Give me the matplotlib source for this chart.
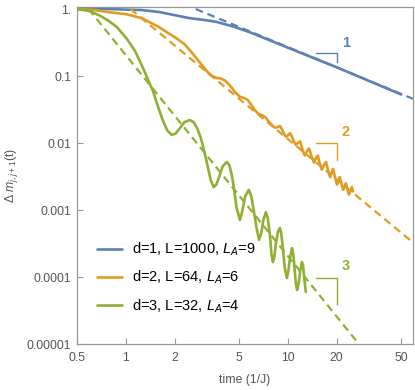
import numpy as np
import matplotlib
matplotlib.use("Agg")
import matplotlib.pyplot as plt

plt.rcParams['font.family'] = ['Liberation Sans', 'DejaVu Sans']
plt.rcParams['mathtext.fontset'] = 'custom'
plt.rcParams['mathtext.rm'] = 'Liberation Sans'
plt.rcParams['mathtext.it'] = 'Liberation Sans:italic'

# colores estilo Mathematica
c_blue = "#5E81B5"
c_orange = "#E19C24"
c_green = "#8FB032"

# ---------------------------
# datos
# ---------------------------
t_d1 = [0.5, 0.774, 1.0, 1.255, 1.62, 2.0, 2.48, 3.07, 3.65, 4.58, 5.83, 10.0, 20.0, 50.0]
m_d1 = [1.0, 1.0, 0.98, 0.966, 0.90, 0.81, 0.73, 0.685, 0.64, 0.55, 0.45, 0.265, 0.135, 0.053]

t_d2 = [0.5, 0.644, 0.774, 1.0, 1.255, 1.576, 2.006, 2.3, 2.55, 2.86, 3.16, 3.40, 3.62, 3.85,
        4.08, 4.38, 4.71, 5.06, 5.35, 5.65, 5.95, 6.25, 6.6, 6.95, 7.3, 7.6, 7.96, 8.3,
        8.6, 8.93, 9.2, 9.5, 9.72, 10.0, 10.3, 10.6, 10.9, 11.2, 11.5, 11.9, 12.3, 12.7,
        13.1, 13.5, 14.0, 14.5, 14.9, 15.3, 15.7, 16.2, 16.7, 17.2, 17.7, 18.2, 18.6,
        19.0, 19.5, 20.1, 20.5, 20.9, 21.4, 21.9, 22.3, 22.8, 23.3, 23.8, 24.3, 24.8, 25.2]
m_d2 = [1.0, 0.966, 0.90, 0.84, 0.73, 0.55, 0.38, 0.30, 0.225, 0.160, 0.118, 0.100, 0.094, 0.092,
        0.086, 0.073, 0.058, 0.049, 0.047, 0.044, 0.037, 0.031, 0.027, 0.026, 0.024, 0.021, 0.0186, 0.0170,
        0.0172, 0.0180, 0.0160, 0.0135, 0.0124, 0.0130, 0.0140, 0.0125, 0.0105, 0.0094, 0.0100, 0.0106, 0.0080, 0.0065,
        0.0075, 0.0083, 0.0063, 0.0051, 0.0060, 0.0065, 0.0050, 0.0040, 0.0047, 0.0052, 0.0039, 0.0031, 0.0036,
        0.0041, 0.0031, 0.0024, 0.0027, 0.0031, 0.0025, 0.0020, 0.0022, 0.0025, 0.0020, 0.0017, 0.0019, 0.0022, 0.0019]

t_d3 = [0.5, 0.60, 0.69, 0.774, 0.88, 1.014, 1.137, 1.27, 1.38, 1.47, 1.58, 1.69, 1.80, 1.92,
        2.03, 2.15, 2.30, 2.48, 2.62, 2.76, 2.90, 3.05, 3.20, 3.34, 3.48, 3.62, 3.78, 3.96,
        4.20, 4.35, 4.50, 4.65, 4.82, 5.06, 5.25, 5.45, 5.74, 5.95, 6.15, 6.40, 6.64, 6.85,
        7.05, 7.32, 7.52, 7.75, 7.92, 8.08, 8.25, 8.45, 8.70, 8.93, 9.10, 9.30, 9.55, 9.86,
        10.05, 10.3, 10.6, 10.8, 11.0, 11.2, 11.4, 11.6, 11.9, 12.2, 12.4, 12.6, 12.9]
m_d3 = [1.0, 0.93, 0.80, 0.68, 0.54, 0.36, 0.24, 0.136, 0.085, 0.060, 0.035, 0.022, 0.0155, 0.0132,
        0.0138, 0.0165, 0.0205, 0.0220, 0.0205, 0.0165, 0.0120, 0.0075, 0.0045, 0.0028, 0.0022, 0.0024, 0.0032, 0.0045,
        0.0052, 0.0047, 0.0034, 0.0021, 0.0011, 0.00071, 0.0010, 0.0016, 0.0020, 0.0016, 0.0010, 0.00055, 0.00036, 0.00045,
        0.00070, 0.00093, 0.00075, 0.00042, 0.00022, 0.000167, 0.00020, 0.00033, 0.00048, 0.00054, 0.00045, 0.00028, 0.00014, 0.0000966,
        0.00012, 0.00019, 0.00027, 0.00022, 0.00013, 0.000080, 0.000064, 0.000075, 0.00012, 0.000167, 0.00015, 0.00010, 0.00006]

# ajustes de ley de potencia (extremos)
fit_t_d1 = [2.7, 59.0]
fit_m_d1 = [1.0, 0.0458]
fit_t_d2 = [1.07, 59.0]
fit_m_d2 = [1.0, 3.29e-4]
fit_t_d3 = [0.59, 27.4]
fit_m_d3 = [1.0, 1.0e-5]

labels = ["d=1, L=1000, $L_A$=9", "d=2, L=64, $L_A$=6", "d=3, L=32, $L_A$=4"]

# triangulos de pendiente
tri_t = [14.9, 20.0]
tri_top = [0.22, 0.01, 9.7e-5]
tri_exp = [1, 2, 3]
tri_lbl_t = 21.5
tri_lbl_m = [0.31, 0.0146, 1.46e-4]

xticks = [0.5, 1, 2, 5, 10, 20, 50]
xticklabels = ["0.5", "1", "2", "5", "10", "20", "50"]
yticks = [1e-5, 1e-4, 1e-3, 1e-2, 1e-1, 1]
yticklabels = ["0.00001", "0.0001", "0.001", "0.01", "0.1", "1."]

# ---------------------------
# figura
# ---------------------------
fig = plt.figure(figsize=(4.15, 3.9), dpi=100)
ax = fig.add_axes([0.1855, 0.1179, 0.8096, 0.864])
ax.set_xscale("log")
ax.set_yscale("log")

colors = [c_blue, c_orange, c_green]
series = [(t_d1, m_d1), (t_d2, m_d2), (t_d3, m_d3)]
fits = [(fit_t_d1, fit_m_d1), (fit_t_d2, fit_m_d2), (fit_t_d3, fit_m_d3)]

for (t, m), col, lab in zip(series, colors, labels):
    ax.plot(t, m, color=col, lw=1.9, label=lab, solid_joinstyle="round",
            solid_capstyle="round", zorder=3)
for (t, m), col in zip(fits, colors):
    ax.plot(t, m, color=col, lw=1.6, ls=(0, (3.5, 2.2)), zorder=4)

for top, n, col, lm in zip(tri_top, tri_exp, colors, tri_lbl_m):
    bottom = top * (tri_t[0] / tri_t[1]) ** n
    ax.plot([tri_t[0], tri_t[1], tri_t[1]], [top, top, bottom], color=col, lw=1.0, zorder=2)
    ax.text(tri_lbl_t, lm, str(n), color=col, fontsize=10.5, fontweight="bold",
            ha="left", va="center")

ax.set_xlim(0.5, 59.1)
ax.set_ylim(1e-5, 1.07)
ax.set_xticks(xticks)
ax.set_xticklabels(xticklabels)
ax.set_yticks(yticks)
ax.set_yticklabels(yticklabels)
ax.minorticks_off()
ax.tick_params(direction="in", length=4, width=0.8, color="#999999",
               labelcolor="#555555", labelsize=8.8, pad=4)
ax.tick_params(axis="x", pad=6)
for sp in ax.spines.values():
    sp.set_color("#999999")
    sp.set_linewidth(0.9)

ax.set_xlabel("time (1/J)", fontsize=8.8, color="#555555", labelpad=7)
ax.set_ylabel("Δ $m_{j,j+1}$(t)", fontsize=8.8, color="#555555", labelpad=5)

leg = ax.legend(loc="lower left", bbox_to_anchor=(0.02, 0.048), frameon=False,
                fontsize=10.5, handlelength=1.7, handletextpad=0.7, labelspacing=0.75)

fig.savefig("out.png", dpi=100)
